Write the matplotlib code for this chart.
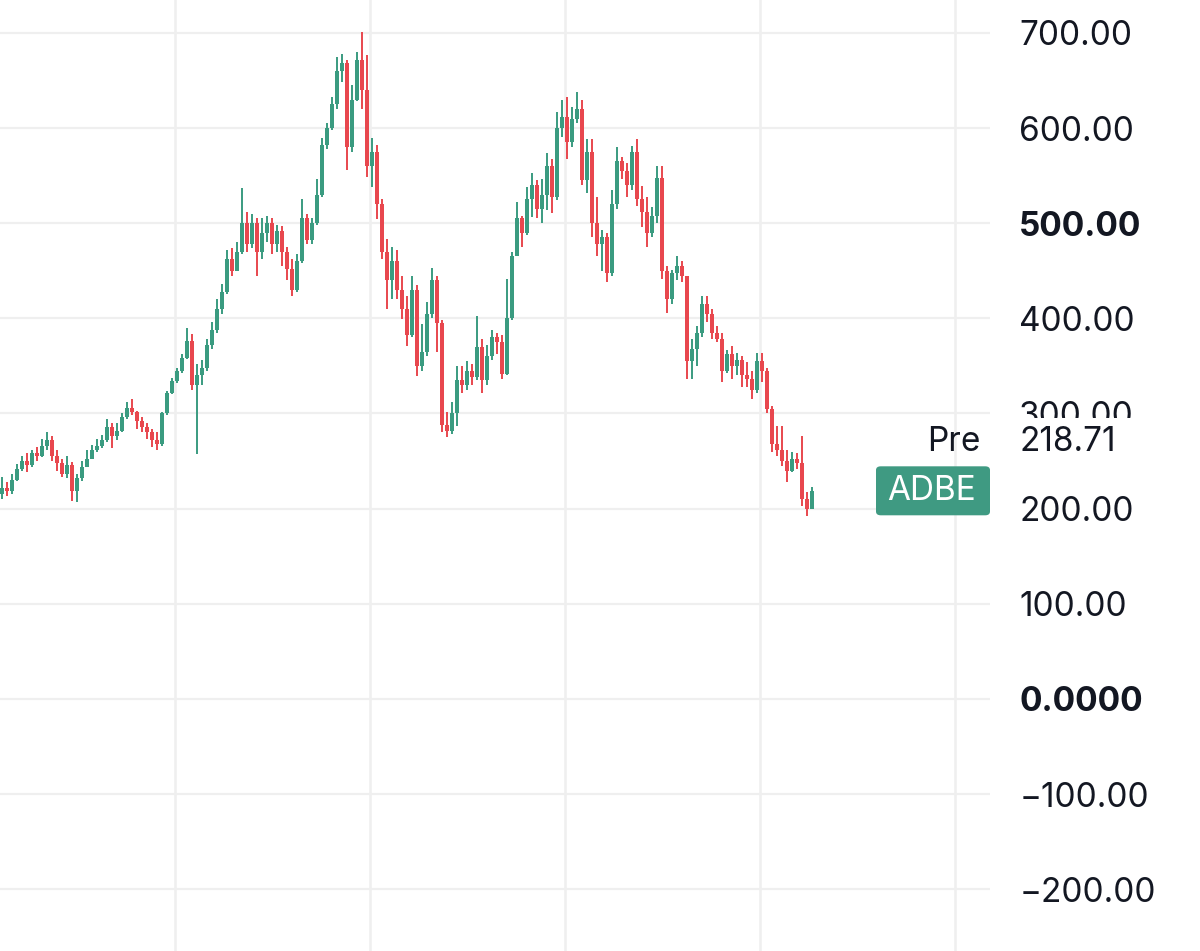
import matplotlib.pyplot as plt
import numpy as np
from matplotlib.patches import FancyBboxPatch, Rectangle

# ADBE price history (one bar every ~5 px of the reference)
first_open = 215.0
closes = [
    222, 218, 230, 242, 250, 246, 258, 255, 266, 272,
    255, 248, 236, 246, 218, 232, 244, 252, 262, 266,
    272, 286, 276, 282, 296, 306, 302, 292, 286, 280,
    272, 268, 300, 322, 334, 345, 358, 376, 330, 340,
    348, 372, 388, 410, 428, 462, 450, 470, 500, 478,
    500, 470, 490, 500, 478, 492, 470, 452, 430, 460,
    505, 482, 500, 530, 582, 600, 625, 660, 668, 580,
    630, 672, 640, 560, 575, 520, 470, 440, 460, 430,
    410, 382, 430, 350, 365, 405, 440, 395, 288, 282,
    300, 335, 330, 345, 338, 370, 335, 360, 380, 375,
    342, 400, 465, 505, 490, 525, 540, 515, 530, 560,
    528, 600, 612, 585, 610, 620, 545, 575, 500, 478,
    485, 448, 520, 565, 555, 540, 575, 525, 512, 490,
    508, 548, 450, 420, 448, 455, 445, 355, 368, 385,
    415, 405, 385, 378, 345, 362, 350, 356, 340, 336,
    325, 355, 345, 305, 268, 262, 250, 240, 252, 248,
    210, 200, 218.71,
]
highs = [
    233, 228, 236, 247, 255, 258, 262, 265, 273, 280,
    276, 262, 252, 255, 249, 236, 250, 262, 267, 273,
    277, 294, 290, 290, 300, 312, 315, 303, 296, 290,
    284, 280, 302, 324, 337, 348, 362, 390, 384, 352,
    356, 378, 396, 420, 436, 472, 474, 480, 537, 512,
    510, 505, 505, 508, 505, 498, 497, 475, 462, 468,
    525, 510, 505, 546, 590, 605, 633, 675, 678, 672,
    645, 680, 701, 677, 590, 582, 525, 483, 475, 472,
    444, 423, 444, 435, 394, 417, 453, 445, 398, 302,
    312, 350, 350, 355, 352, 402, 378, 372, 388, 385,
    382, 441, 470, 522, 508, 538, 553, 545, 546, 574,
    567, 617, 630, 633, 622, 638, 630, 588, 588, 528,
    493, 490, 535, 580, 570, 563, 581, 588, 539, 528,
    517, 560, 560, 455, 451, 465, 460, 444, 378, 392,
    423, 423, 410, 392, 385, 367, 371, 364, 360, 354,
    345, 364, 364, 348, 308, 287, 287, 262, 259, 258,
    276, 217, 223,
]
lows = [
    210, 213, 215, 229, 240, 238, 244, 250, 254, 262,
    250, 240, 233, 232, 208, 207, 229, 244, 252, 259,
    264, 270, 264, 272, 280, 294, 298, 284, 280, 273,
    265, 262, 266, 298, 320, 332, 343, 357, 325, 257,
    330, 345, 368, 385, 405, 426, 444, 450, 468, 470,
    474, 445, 462, 480, 468, 470, 455, 440, 423, 428,
    458, 478, 478, 498, 528, 578, 598, 620, 648, 556,
    575, 628, 620, 549, 538, 504, 462, 410, 420, 420,
    399, 371, 380, 339, 345, 360, 400, 365, 280, 275,
    278, 287, 322, 325, 330, 335, 322, 330, 356, 362,
    336, 340, 398, 465, 475, 488, 507, 505, 500, 514,
    511, 524, 591, 567, 580, 605, 540, 532, 486, 465,
    450, 438, 445, 515, 546, 528, 535, 518, 496, 475,
    485, 500, 441, 406, 415, 440, 438, 336, 336, 350,
    380, 396, 378, 375, 333, 343, 336, 340, 328, 328,
    315, 322, 333, 301, 260, 255, 245, 228, 238, 242,
    203, 192, 210,
]

ticker = "ADBE"
pre_label = "Pre"
last_price = 218.71
y_ticks = [700, 600, 500, 400, 300, 200, 100, 0, -100, -200]
y_tick_labels = ["700.00", "600.00", "500.00", "400.00", "300.00",
                 "200.00", "100.00", "0.0000", "\u2212100.00", "\u2212200.00"]
bold_ticks = {"500.00", "0.0000"}

up_color = "#3a9b80"
down_color = "#e8474e"
grid_color = "#efefef"
text_color = "#131722"

plt.rcParams["font.family"] = ["Inter", "DejaVu Sans"]

close_arr = np.asarray(closes, dtype=float)
open_arr = np.concatenate([[first_open], close_arr[:-1]])
high_arr = np.maximum(np.asarray(highs, dtype=float), np.maximum(open_arr, close_arr))
low_arr = np.minimum(np.asarray(lows, dtype=float), np.minimum(open_arr, close_arr))
x = np.arange(len(close_arr))
up = close_arr >= open_arr
colors = np.where(up, up_color, down_color)

fig = plt.figure(figsize=(12, 9.51), dpi=100)
ax = fig.add_axes([0, 0, 990 / 1200, 1])

# vertical grid every ~2 years
for gx in [34.6, 73.6, 112.6, 151.6, 190.6]:
    ax.axvline(gx, color=grid_color, lw=1.8, zorder=0)
for gy in y_ticks:
    ax.axhline(gy, color=grid_color, lw=1.6, zorder=0)

ax.vlines(x, low_arr, high_arr, colors=colors, lw=1.4, zorder=2)
body_bottom = np.minimum(open_arr, close_arr)
body_height = np.maximum(np.abs(close_arr - open_arr), 0.8)
ax.bar(x, body_height, bottom=body_bottom, width=0.78, color=colors,
       linewidth=0, zorder=3)

ax.set_xlim(-0.4, 197.6)
ax.set_ylim(-265, 734.6)
for side in ["top", "bottom", "left", "right"]:
    ax.spines[side].set_visible(False)
ax.set_xticks([])
ax.yaxis.tick_right()
ax.set_yticks(y_ticks)
ax.set_yticklabels(y_tick_labels)
ax.tick_params(axis="y", length=0, pad=21, labelsize=24, labelcolor=text_color)
for lbl in ax.get_yticklabels():
    if lbl.get_text() in bold_ticks:
        lbl.set_fontweight("bold")

# white plate of the pre-market label covers part of the 300 tick
fig.add_artist(Rectangle((1000 / 1200, 1 - 466 / 951), 200 / 1200, 48 / 951,
                         transform=fig.transFigure, facecolor="white",
                         edgecolor="none", zorder=5))
fig.text(980 / 1200, 1 - 442 / 951, pre_label, ha="right", va="center",
         fontsize=24, color=text_color, zorder=6)
fig.text(1019 / 1200, 1 - 442 / 951, f"{last_price:.2f}", ha="left",
         va="center", fontsize=24, color=text_color, zorder=6)

# ticker badge at the last price
badge_y = ax.transData.transform((0, last_price))[1] / fig.bbox.height
fig.add_artist(FancyBboxPatch((876 / 1200, badge_y - 24.5 / 951), 114 / 1200,
                              49 / 951, boxstyle="round,pad=0,rounding_size=0.004",
                              transform=fig.transFigure, facecolor="#3f9a82",
                              edgecolor="none", zorder=5))
fig.text(932 / 1200, badge_y, ticker, ha="center", va="center", fontsize=24,
         color="white", zorder=6)

fig.savefig("out.png", dpi=100)
